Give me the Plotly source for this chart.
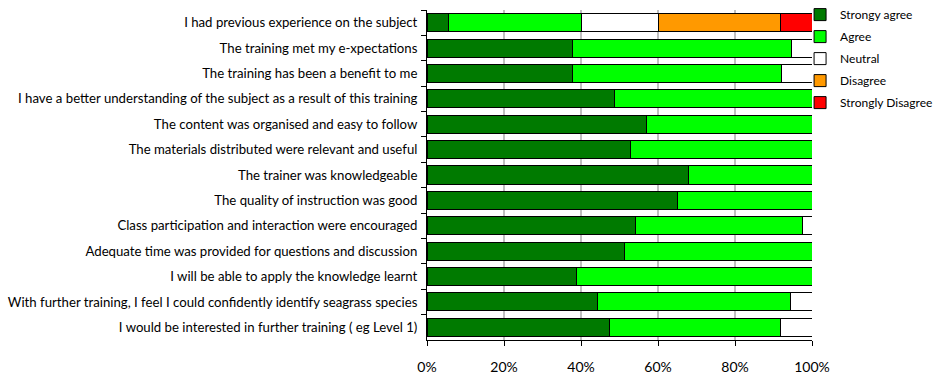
import plotly.graph_objects as go

# Survey statements, listed top to bottom
statements = [
    "I had previous experience on the subject",
    "The training met my e-xpectations",
    "The training has been a benefit to me",
    "I have a better understanding of the subject as a result of this training",
    "The content was organised and easy to follow",
    "The materials distributed were relevant and useful",
    "The trainer was knowledgeable",
    "The quality of instruction was good",
    "Class participation and interaction were encouraged",
    "Adequate time was provided for questions and discussion",
    "I will be able to apply the knowledge learnt",
    "With further training, I feel I could confidently identify seagrass species",
    "I would be interested in further training ( eg Level 1)",
]

# Share of responses per statement (%)
strongly_agree = [5.5, 37.9, 37.9, 48.7, 56.9, 52.8, 67.8, 65.0, 54.1, 51.4, 38.8, 44.4, 47.4]
agree = [34.6, 56.9, 54.2, 51.3, 43.1, 47.2, 32.2, 35.0, 43.4, 48.6, 61.2, 50.1, 44.5]
neutral = [20.0, 5.2, 7.9, 0, 0, 0, 0, 0, 2.5, 0, 0, 5.5, 8.1]
disagree = [31.6, 0, 0, 0, 0, 0, 0, 0, 0, 0, 0, 0, 0]
strongly_disagree = [8.4, 0, 0, 0, 0, 0, 0, 0, 0, 0, 0, 0, 0]

x_ticks = [0, 20, 40, 60, 80, 100]
x_tick_labels = ["0%", "20%", "40%", "60%", "80%", "100%"]

series = [
    ("Strongy agree", strongly_agree, "#007A00"),
    ("Agree", agree, "#00FF00"),
    ("Neutral", neutral, "#FFFFFF"),
    ("Disagree", disagree, "#FF9900"),
    ("Strongly Disagree", strongly_disagree, "#FF0000"),
]

fig = go.Figure()
for i, (name, vals, color) in enumerate(series):
    fig.add_trace(go.Bar(
        y=statements,
        x=vals,
        name=name,
        orientation="h",
        marker=dict(color=color, line=dict(color="#000000", width=1)),
        legendgroup=f"g{i}",
    ))

font_family = "Lato, Carlito, Calibri, sans-serif"

fig.update_layout(
    width=935,
    height=378,
    barmode="stack",
    bargap=0.29,
    paper_bgcolor="white",
    plot_bgcolor="white",
    margin=dict(l=427, r=123, t=10, b=38, autoexpand=False),
    font=dict(family=font_family, size=13.2, color="#000000"),
    legend=dict(
        x=0.969,
        y=1.03,
        xanchor="left",
        yanchor="top",
        xref="paper",
        yref="paper",
        traceorder="grouped",
        tracegroupgap=3,
        itemwidth=30,
        font=dict(family=font_family, size=12),
        bgcolor="rgba(0,0,0,0)",
    ),
    xaxis=dict(
        range=[0, 100],
        tickvals=x_ticks,
        ticktext=x_tick_labels,
        showgrid=True,
        gridcolor="#BFBFBF",
        gridwidth=1.5,
        showline=True,
        linecolor="#000000",
        linewidth=1,
        ticks="outside",
        ticklen=5,
        tickcolor="#000000",
        tickfont=dict(family=font_family, size=14),
        ticklabelstandoff=9,
        zeroline=False,
    ),
    yaxis=dict(
        categoryorder="array",
        categoryarray=statements,
        autorange="reversed",
        showline=True,
        linecolor="#000000",
        linewidth=1,
        ticks="outside",
        ticklen=5,
        tickcolor="#000000",
        tickson="boundaries",
        showgrid=False,
        tickfont=dict(family=font_family, size=13.2),
        ticklabelstandoff=6,
    ),
)

fig.write_html("out.html")
